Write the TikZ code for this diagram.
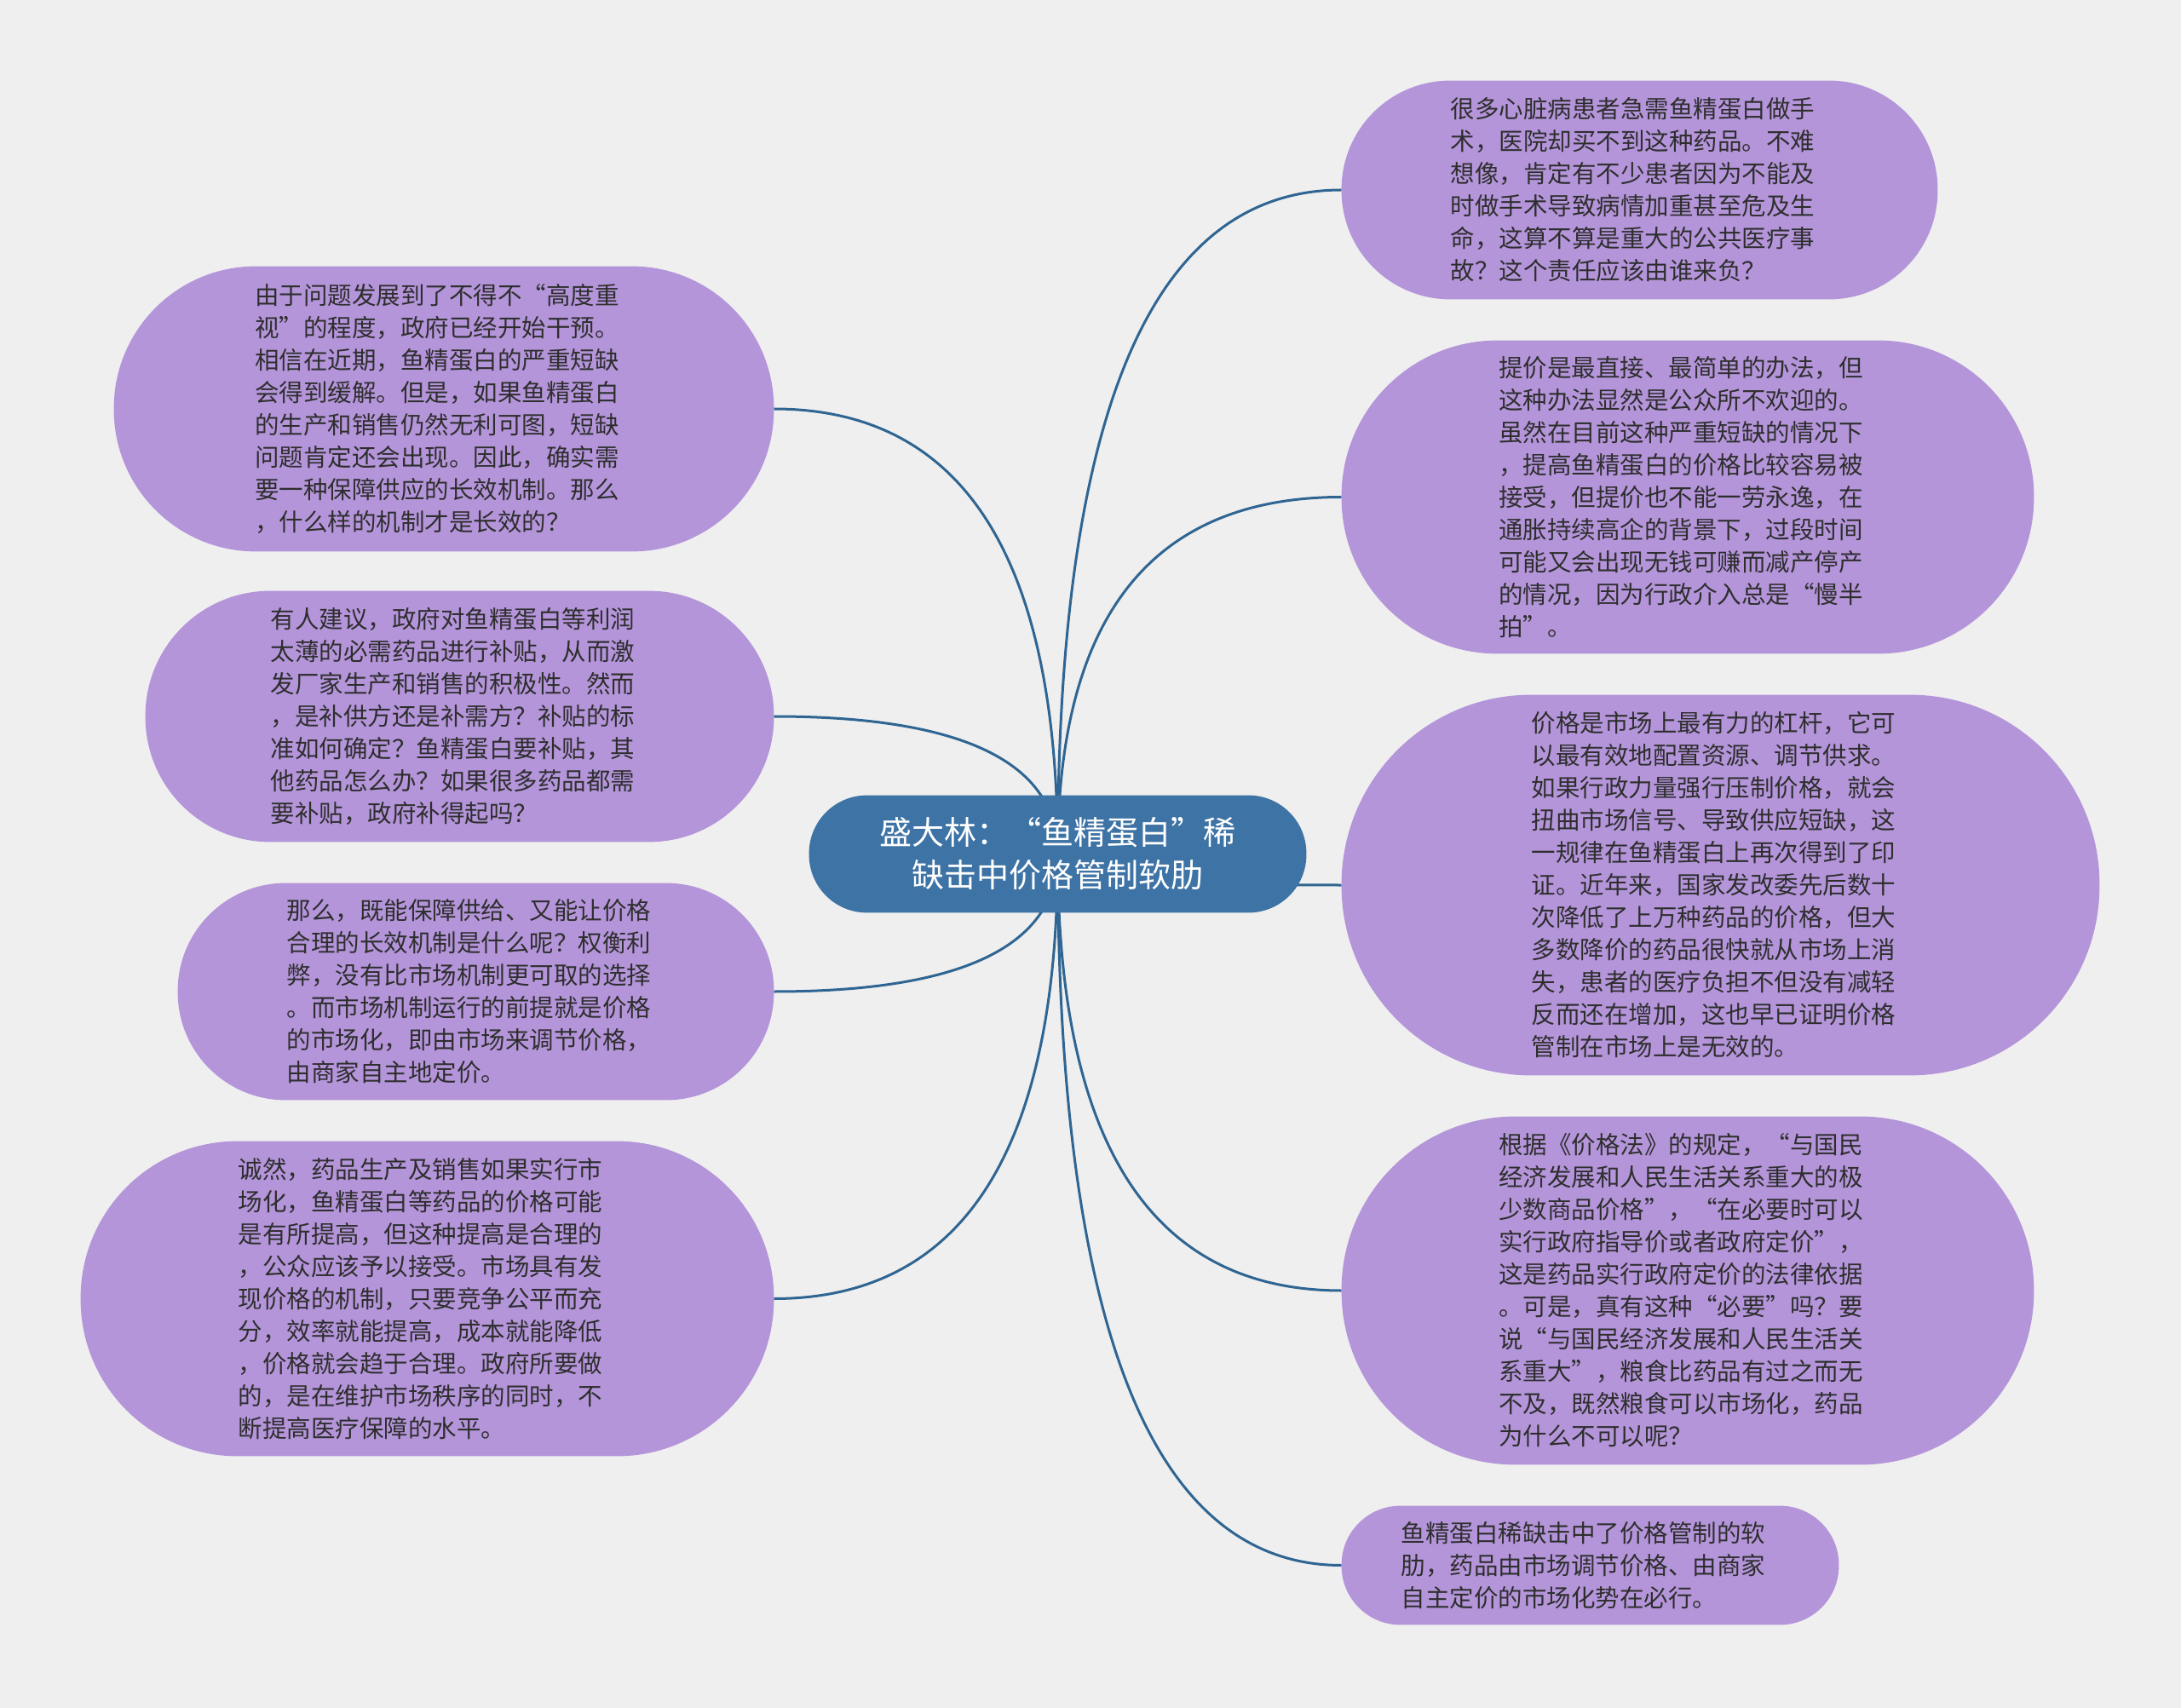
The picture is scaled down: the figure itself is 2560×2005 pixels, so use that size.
\documentclass[tikz,border=0pt]{standalone}
\usepackage{fontspec}
\setmainfont{Noto Sans CJK SC}
\usetikzlibrary{calc}
\definecolor{pagebg}{HTML}{EFEFEF}
\definecolor{linecol}{HTML}{2F6592}
\definecolor{hubfill}{HTML}{3E73A5}
\definecolor{leaffill}{HTML}{B495DA}
\definecolor{leaftext}{HTML}{2E2E2E}
\pgfdeclarelayer{bglayer}
\pgfdeclarelayer{linelayer}
\pgfdeclarelayer{shapelayer}
\pgfsetlayers{bglayer,linelayer,shapelayer,main}
\tikzset{
  leaf/.style={inner sep=0pt, text width=221.75pt, align=left, text=leaftext,
    font=\fontsize{14.25pt}{19pt}\selectfont},
  hub/.style={inner sep=0pt, align=center, text=white,
    font=\fontsize{19pt}{25pt}\selectfont},
  conn/.style={draw=linecol, line width=1.5pt},
}
\newcommand\pillfill[3]{%
  \begin{pgfonlayer}{shapelayer}
    \fill[#2, rounded corners=#3] (#1.south west) rectangle (#1.north east);
  \end{pgfonlayer}}
\newcommand\linkto[1]{%
  \begin{pgfonlayer}{linelayer}
    \draw[conn] (hubnode.center) .. controls ($(hubnode.center)!0.6667!(hubnode.center |- #1)$)
      and ($(#1)!0.6667!(hubnode.center |- #1)$) .. (#1);
  \end{pgfonlayer}}
\begin{document}
\begin{tikzpicture}[x=0.5pt,y=-0.5pt]
\begin{pgfonlayer}{bglayer}
  \fill[pagebg] (0,0) rectangle (2560,2005);
\end{pgfonlayer}
\useasboundingbox (0,0) rectangle (2560,2005);

% hub
\node[hub, minimum width=291.5pt, minimum height=68.5pt] (hubnode) at (1241.5,1002.5)
  {盛大林：“鱼精蛋白”稀\\缺击中价格管制软肋};
\pillfill{hubnode}{hubfill}{34pt}

% right side
\node[leaf, minimum width=349.5pt, minimum height=128pt] (r1) at (1924.5,223) {%
很多心脏病患者急需鱼精蛋白做手\\
术，医院却买不到这种药品。不难\\
想像，肯定有不少患者因为不能及\\
时做手术导致病情加重甚至危及生\\
命，这算不算是重大的公共医疗事\\
故？这个责任应该由谁来负？};
\pillfill{r1}{leaffill}{63.8pt}

\node[leaf, minimum width=406pt, minimum height=183.5pt] (r2) at (1981,583.5) {%
提价是最直接、最简单的办法，但\\
这种办法显然是公众所不欢迎的。\\
虽然在目前这种严重短缺的情况下\\
，提高鱼精蛋白的价格比较容易被\\
接受，但提价也不能一劳永逸，在\\
通胀持续高企的背景下，过段时间\\
可能又会出现无钱可赚而减产停产\\
的情况，因为行政介入总是“慢半\\
拍”。};
\pillfill{r2}{leaffill}{91.5pt}

\node[leaf, minimum width=444.5pt, minimum height=223pt] (r3) at (2019.5,1039) {%
价格是市场上最有力的杠杆，它可\\
以最有效地配置资源、调节供求。\\
如果行政力量强行压制价格，就会\\
扭曲市场信号、导致供应短缺，这\\
一规律在鱼精蛋白上再次得到了印\\
证。近年来，国家发改委先后数十\\
次降低了上万种药品的价格，但大\\
多数降价的药品很快就从市场上消\\
失，患者的医疗负担不但没有减轻\\
反而还在增加，这也早已证明价格\\
管制在市场上是无效的。};
\pillfill{r3}{leaffill}{111.3pt}

\node[leaf, minimum width=406pt, minimum height=204pt] (r4) at (1981,1515) {%
根据《价格法》的规定，“与国民\\
经济发展和人民生活关系重大的极\\
少数商品价格”，“在必要时可以\\
实行政府指导价或者政府定价”，\\
这是药品实行政府定价的法律依据\\
。可是，真有这种“必要”吗？要\\
说“与国民经济发展和人民生活关\\
系重大”，粮食比药品有过之而无\\
不及，既然粮食可以市场化，药品\\
为什么不可以呢？};
\pillfill{r4}{leaffill}{101.8pt}

\node[leaf, minimum width=291.5pt, minimum height=69.5pt] (r5) at (1866.5,1837.5) {%
鱼精蛋白稀缺击中了价格管制的软\\
肋，药品由市场调节价格、由商家\\
自主定价的市场化势在必行。};
\pillfill{r5}{leaffill}{34.6pt}

% left side
\node[leaf, minimum width=387pt, minimum height=167pt] (l1) at (521,480) {%
由于问题发展到了不得不“高度重\\
视”的程度，政府已经开始干预。\\
相信在近期，鱼精蛋白的严重短缺\\
会得到缓解。但是，如果鱼精蛋白\\
的生产和销售仍然无利可图，短缺\\
问题肯定还会出现。因此，确实需\\
要一种保障供应的长效机制。那么\\
，什么样的机制才是长效的？};
\pillfill{l1}{leaffill}{83.3pt}

\node[leaf, minimum width=368.5pt, minimum height=147pt] (l2) at (539.5,841) {%
有人建议，政府对鱼精蛋白等利润\\
太薄的必需药品进行补贴，从而激\\
发厂家生产和销售的积极性。然而\\
，是补供方还是补需方？补贴的标\\
准如何确定？鱼精蛋白要补贴，其\\
他药品怎么办？如果很多药品都需\\
要补贴，政府补得起吗？};
\pillfill{l2}{leaffill}{73.3pt}

\node[leaf, minimum width=349.5pt, minimum height=127pt] (l3) at (558.5,1164) {%
那么，既能保障供给、又能让价格\\
合理的长效机制是什么呢？权衡利\\
弊，没有比市场机制更可取的选择\\
。而市场机制运行的前提就是价格\\
的市场化，即由市场来调节价格，\\
由商家自主地定价。};
\pillfill{l3}{leaffill}{63.3pt}

\node[leaf, minimum width=406.5pt, minimum height=184.5pt] (l4) at (501.5,1524.5) {%
诚然，药品生产及销售如果实行市\\
场化，鱼精蛋白等药品的价格可能\\
是有所提高，但这种提高是合理的\\
，公众应该予以接受。市场具有发\\
现价格的机制，只要竞争公平而充\\
分，效率就能提高，成本就能降低\\
，价格就会趋于合理。政府所要做\\
的，是在维护市场秩序的同时，不\\
断提高医疗保障的水平。};
\pillfill{l4}{leaffill}{92pt}

% connectors
\linkto{r1.west}
\linkto{r2.west}
\linkto{r3.west}
\linkto{r4.west}
\linkto{r5.west}
\linkto{l1.east}
\linkto{l2.east}
\linkto{l3.east}
\linkto{l4.east}
\end{tikzpicture}
\end{document}
